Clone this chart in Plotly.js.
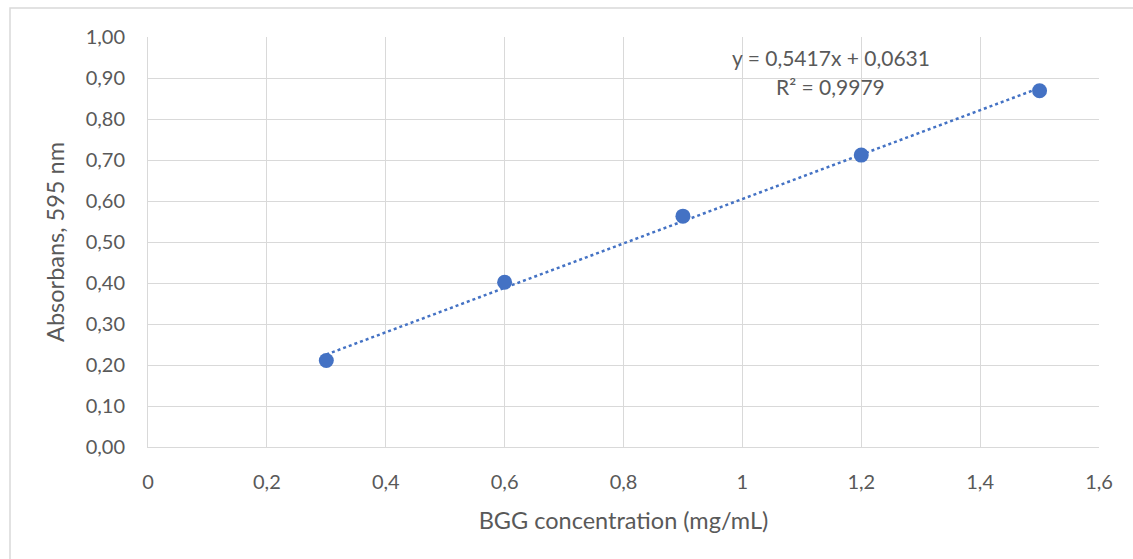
<!DOCTYPE html>
<html>
<head>
<meta charset="utf-8">
<script src="https://cdn.plot.ly/plotly-3.0.1.min.js"></script>
<style>html,body{margin:0;padding:0;background:#fff;}#chart{width:1133px;height:559px;}</style>
</head>
<body>
<div id="chart"></div>
<script>
const concentration = [0.3, 0.6, 0.9, 1.2, 1.5];
const absorbance = [0.211, 0.402, 0.563, 0.712, 0.869];
const slope = 0.5417;
const intercept = 0.0631;
const rSquared = 0.9979;
const xTickVals = [0, 0.2, 0.4, 0.6, 0.8, 1, 1.2, 1.4, 1.6];
const xTickText = ['0', '0,2', '0,4', '0,6', '0,8', '1', '1,2', '1,4', '1,6'];

const xMin = Math.min(...concentration), xMax = Math.max(...concentration);
const trendX = [xMin, xMax];
const trendY = trendX.map(x => slope * x + intercept);

const fmt = (v, d) => v.toFixed(d).replace('.', ',');
const font = 'Lato, "Open Sans", sans-serif';
const grey = '#595959';
const gridC = '#d9d9d9';

const traces = [
  {x: trendX, y: trendY, mode: 'lines', line: {color: '#4472C4', width: 2.5, dash: 'dot'}, hoverinfo: 'skip', showlegend: false},
  {x: concentration, y: absorbance, mode: 'markers', marker: {color: '#4472C4', size: 15}, showlegend: false}
];

const layout = {
  width: 1133, height: 559,
  margin: {l: 148, r: 34, t: 37, b: 112},
  paper_bgcolor: '#fff', plot_bgcolor: '#fff',
  separators: ', ',
  font: {family: font, color: grey, size: 20},
  xaxis: {
    range: [0, 1.6], tickvals: xTickVals, ticktext: xTickText,
    showgrid: true, gridcolor: gridC, gridwidth: 1,
    zeroline: false, showline: true, linecolor: gridC, linewidth: 1, mirror: false,
    ticks: 'outside', ticklen: 17, tickcolor: 'rgba(0,0,0,0)',
    tickfont: {size: 20, color: grey, family: font},
    title: {text: 'BGG concentration (mg/mL)', font: {size: 23.5, color: grey, family: font}, standoff: 20}
  },
  yaxis: {
    range: [0, 1.0], dtick: 0.1, tick0: 0, tickformat: '.2f',
    showgrid: true, gridcolor: gridC, gridwidth: 1,
    zeroline: false, showline: true, linecolor: gridC, linewidth: 1,
    ticks: 'outside', ticklen: 18, tickcolor: 'rgba(0,0,0,0)',
    tickfont: {size: 20, color: grey, family: font},
    title: {text: 'Absorbans, 595 nm', font: {size: 23.5, color: grey, family: font}, standoff: 14}
  },
  shapes: [
    {type: 'rect', xref: 'paper', yref: 'paper', x0: -0.1451, x1: 1.2, y0: -0.4, y1: 1.0707, line: {color: '#d9d9d9', width: 1.5}, layer: 'below'}
  ],
  annotations: [
    {x: 1.1486, y: 0.951, xref: 'x', yref: 'y', text: 'y = ' + fmt(slope, 4) + 'x + ' + fmt(intercept, 4), showarrow: false, font: {size: 21, color: grey, family: font}},
    {x: 1.1486, y: 0.880, xref: 'x', yref: 'y', text: 'R² = ' + fmt(rSquared, 4), showarrow: false, font: {size: 21, color: grey, family: font}}
  ]
};

Plotly.newPlot('chart', traces, layout, {displayModeBar: false, staticPlot: true});
</script>
</body>
</html>
